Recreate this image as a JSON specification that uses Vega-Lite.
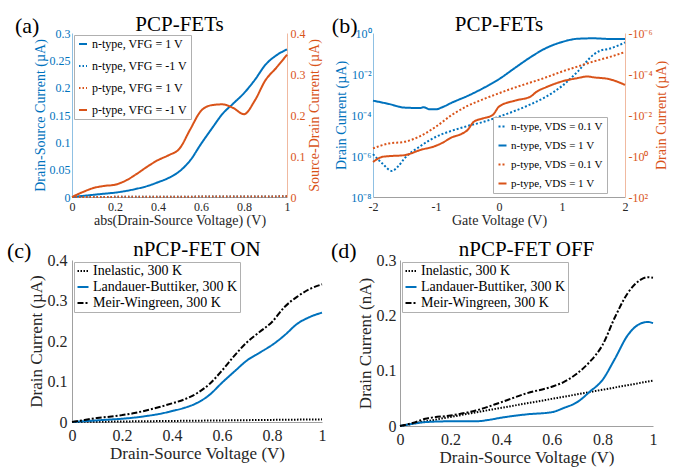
{
  "$schema": "https://vega.github.io/schema/vega-lite/v6.json",
  "background": "white",
  "padding": {"left": 7, "top": 14, "right": 1, "bottom": 2},
  "config": {
    "font": "Liberation Serif",
    "view": {"stroke": null},
    "axis": {"grid": false, "ticks": false, "labelFontSize": 12, "titleFontSize": 14, "titleFontWeight": "normal", "labelColor": "#262626", "titleColor": "#262626", "domainColor": "#a0a0a0", "labelPadding": 2, "titlePadding": 2, "labelFlush": false, "labelOverlap": false},
    "title": {"fontSize": 21, "fontWeight": "normal", "color": "#000000"},
    "legend": {"labelFontSize": 12, "symbolType": "stroke", "symbolStrokeWidth": 2, "strokeColor": "#b0b0b0", "fillColor": "#ffffff", "labelOffset": 3, "labelLimit": 300, "labelColor": "#000000"}
  },
  "datasets": {
    "a": [
      {"s":"n-type, VFG = 1 V","v":0,"i":0},{"s":"n-type, VFG = 1 V","v":0.05,"i":0.002},{"s":"n-type, VFG = 1 V","v":0.1,"i":0.004},{"s":"n-type, VFG = 1 V","v":0.15,"i":0.006},{"s":"n-type, VFG = 1 V","v":0.2,"i":0.008},{"s":"n-type, VFG = 1 V","v":0.25,"i":0.011},{"s":"n-type, VFG = 1 V","v":0.3,"i":0.015},{"s":"n-type, VFG = 1 V","v":0.35,"i":0.02},{"s":"n-type, VFG = 1 V","v":0.4,"i":0.027},{"s":"n-type, VFG = 1 V","v":0.45,"i":0.035},{"s":"n-type, VFG = 1 V","v":0.5,"i":0.047},{"s":"n-type, VFG = 1 V","v":0.55,"i":0.067},{"s":"n-type, VFG = 1 V","v":0.6,"i":0.097},{"s":"n-type, VFG = 1 V","v":0.65,"i":0.125},{"s":"n-type, VFG = 1 V","v":0.7,"i":0.152},{"s":"n-type, VFG = 1 V","v":0.75,"i":0.171},{"s":"n-type, VFG = 1 V","v":0.8,"i":0.19},{"s":"n-type, VFG = 1 V","v":0.85,"i":0.214},{"s":"n-type, VFG = 1 V","v":0.9,"i":0.242},{"s":"n-type, VFG = 1 V","v":0.95,"i":0.259},{"s":"n-type, VFG = 1 V","v":1,"i":0.27},
      {"s":"n-type, VFG = -1 V","v":0,"i":0},{"s":"n-type, VFG = -1 V","v":0.25,"i":0.0003},{"s":"n-type, VFG = -1 V","v":0.5,"i":0.0006},{"s":"n-type, VFG = -1 V","v":0.75,"i":0.0009},{"s":"n-type, VFG = -1 V","v":1,"i":0.0012},
      {"s":"p-type, VFG = 1 V","v":0,"i":0},{"s":"p-type, VFG = 1 V","v":0.25,"i":0.0004},{"s":"p-type, VFG = 1 V","v":0.5,"i":0.0008},{"s":"p-type, VFG = 1 V","v":0.75,"i":0.0012},{"s":"p-type, VFG = 1 V","v":1,"i":0.0016},
      {"s":"p-type, VFG = -1 V","v":0,"i":0},{"s":"p-type, VFG = -1 V","v":0.05,"i":0.012},{"s":"p-type, VFG = -1 V","v":0.1,"i":0.022},{"s":"p-type, VFG = -1 V","v":0.15,"i":0.027},{"s":"p-type, VFG = -1 V","v":0.2,"i":0.03},{"s":"p-type, VFG = -1 V","v":0.25,"i":0.04},{"s":"p-type, VFG = -1 V","v":0.3,"i":0.056},{"s":"p-type, VFG = -1 V","v":0.35,"i":0.074},{"s":"p-type, VFG = -1 V","v":0.4,"i":0.09},{"s":"p-type, VFG = -1 V","v":0.45,"i":0.102},{"s":"p-type, VFG = -1 V","v":0.5,"i":0.118},{"s":"p-type, VFG = -1 V","v":0.55,"i":0.165},{"s":"p-type, VFG = -1 V","v":0.6,"i":0.21},{"s":"p-type, VFG = -1 V","v":0.65,"i":0.224},{"s":"p-type, VFG = -1 V","v":0.7,"i":0.226},{"s":"p-type, VFG = -1 V","v":0.75,"i":0.217},{"s":"p-type, VFG = -1 V","v":0.8,"i":0.202},{"s":"p-type, VFG = -1 V","v":0.85,"i":0.235},{"s":"p-type, VFG = -1 V","v":0.9,"i":0.285},{"s":"p-type, VFG = -1 V","v":0.95,"i":0.315},{"s":"p-type, VFG = -1 V","v":1,"i":0.347}
    ],
    "b": [
      {"s":"n-type, VDS = 0.1 V","v":-2,"i":1.23e-6},{"s":"n-type, VDS = 0.1 V","v":-1.85,"i":4.27e-7},{"s":"n-type, VDS = 0.1 V","v":-1.7,"i":1.86e-7},{"s":"n-type, VDS = 0.1 V","v":-1.6,"i":3.16e-7},{"s":"n-type, VDS = 0.1 V","v":-1.5,"i":7.6e-7},{"s":"n-type, VDS = 0.1 V","v":-1.25,"i":3.0e-6},{"s":"n-type, VDS = 0.1 V","v":-1,"i":8.7e-6},{"s":"n-type, VDS = 0.1 V","v":-0.75,"i":1.7e-5},{"s":"n-type, VDS = 0.1 V","v":-0.5,"i":2.9e-5},{"s":"n-type, VDS = 0.1 V","v":-0.25,"i":4.6e-5},{"s":"n-type, VDS = 0.1 V","v":0,"i":8.3e-5},{"s":"n-type, VDS = 0.1 V","v":0.25,"i":1.58e-4},{"s":"n-type, VDS = 0.1 V","v":0.5,"i":3.3e-4},{"s":"n-type, VDS = 0.1 V","v":0.75,"i":7.9e-4},{"s":"n-type, VDS = 0.1 V","v":1,"i":2.6e-3},{"s":"n-type, VDS = 0.1 V","v":1.25,"i":0.0132},{"s":"n-type, VDS = 0.1 V","v":1.5,"i":0.087},{"s":"n-type, VDS = 0.1 V","v":1.6,"i":0.135},{"s":"n-type, VDS = 0.1 V","v":1.75,"i":0.17},{"s":"n-type, VDS = 0.1 V","v":2,"i":0.347},
      {"s":"n-type, VDS = 1 V","v":-2,"i":5.0e-4},{"s":"n-type, VDS = 1 V","v":-1.75,"i":3.47e-4},{"s":"n-type, VDS = 1 V","v":-1.5,"i":2.29e-4},{"s":"n-type, VDS = 1 V","v":-1.25,"i":2.19e-4},{"s":"n-type, VDS = 1 V","v":-1.2,"i":2.4e-4},{"s":"n-type, VDS = 1 V","v":-1.1,"i":1.9e-4},{"s":"n-type, VDS = 1 V","v":-1,"i":1.9e-4},{"s":"n-type, VDS = 1 V","v":-0.9,"i":2.4e-4},{"s":"n-type, VDS = 1 V","v":-0.75,"i":3.98e-4},{"s":"n-type, VDS = 1 V","v":-0.5,"i":8.5e-4},{"s":"n-type, VDS = 1 V","v":-0.25,"i":2.04e-3},{"s":"n-type, VDS = 1 V","v":0,"i":5.6e-3},{"s":"n-type, VDS = 1 V","v":0.25,"i":0.0195},{"s":"n-type, VDS = 1 V","v":0.5,"i":0.066},{"s":"n-type, VDS = 1 V","v":0.75,"i":0.186},{"s":"n-type, VDS = 1 V","v":1,"i":0.363},{"s":"n-type, VDS = 1 V","v":1.25,"i":0.525},{"s":"n-type, VDS = 1 V","v":1.5,"i":0.55},{"s":"n-type, VDS = 1 V","v":1.75,"i":0.513},{"s":"n-type, VDS = 1 V","v":2,"i":0.513},
      {"s":"p-type, VDS = 0.1 V","v":-2,"i":0.427},{"s":"p-type, VDS = 0.1 V","v":-1.75,"i":0.245},{"s":"p-type, VDS = 0.1 V","v":-1.5,"i":0.204},{"s":"p-type, VDS = 0.1 V","v":-1.25,"i":0.107},{"s":"p-type, VDS = 0.1 V","v":-1,"i":0.037},{"s":"p-type, VDS = 0.1 V","v":-0.75,"i":0.01},{"s":"p-type, VDS = 0.1 V","v":-0.5,"i":3.6e-3},{"s":"p-type, VDS = 0.1 V","v":-0.25,"i":1.7e-3},{"s":"p-type, VDS = 0.1 V","v":0,"i":8.7e-4},{"s":"p-type, VDS = 0.1 V","v":0.25,"i":4.6e-4},{"s":"p-type, VDS = 0.1 V","v":0.5,"i":2.6e-4},{"s":"p-type, VDS = 0.1 V","v":0.75,"i":1.45e-4},{"s":"p-type, VDS = 0.1 V","v":1,"i":7.6e-5},{"s":"p-type, VDS = 0.1 V","v":1.25,"i":4.3e-5},{"s":"p-type, VDS = 0.1 V","v":1.5,"i":2.45e-5},{"s":"p-type, VDS = 0.1 V","v":1.75,"i":1.5e-5},{"s":"p-type, VDS = 0.1 V","v":2,"i":8.5e-6},
      {"s":"p-type, VDS = 1 V","v":-2,"i":1.95},{"s":"p-type, VDS = 1 V","v":-1.85,"i":1.1},{"s":"p-type, VDS = 1 V","v":-1.75,"i":1.02},{"s":"p-type, VDS = 1 V","v":-1.5,"i":0.91},{"s":"p-type, VDS = 1 V","v":-1.25,"i":0.51},{"s":"p-type, VDS = 1 V","v":-1,"i":0.316},{"s":"p-type, VDS = 1 V","v":-0.9,"i":0.229},{"s":"p-type, VDS = 1 V","v":-0.75,"i":0.123},{"s":"p-type, VDS = 1 V","v":-0.6,"i":0.085},{"s":"p-type, VDS = 1 V","v":-0.5,"i":0.054},{"s":"p-type, VDS = 1 V","v":-0.4,"i":0.0214},{"s":"p-type, VDS = 1 V","v":-0.25,"i":0.0145},{"s":"p-type, VDS = 1 V","v":-0.1,"i":0.01},{"s":"p-type, VDS = 1 V","v":0,"i":3.9e-3},{"s":"p-type, VDS = 1 V","v":0.25,"i":2.0e-3},{"s":"p-type, VDS = 1 V","v":0.5,"i":1.26e-3},{"s":"p-type, VDS = 1 V","v":0.6,"i":7.2e-4},{"s":"p-type, VDS = 1 V","v":0.75,"i":4.4e-4},{"s":"p-type, VDS = 1 V","v":1,"i":2.3e-4},{"s":"p-type, VDS = 1 V","v":1.25,"i":1.58e-4},{"s":"p-type, VDS = 1 V","v":1.4,"i":1.32e-4},{"s":"p-type, VDS = 1 V","v":1.5,"i":1.45e-4},{"s":"p-type, VDS = 1 V","v":1.75,"i":1.78e-4},{"s":"p-type, VDS = 1 V","v":2,"i":3.4e-4}
    ],
    "c": [
      {"s":"Inelastic, 300 K","v":0,"i":0},{"s":"Inelastic, 300 K","v":0.2,"i":0.0013},{"s":"Inelastic, 300 K","v":0.4,"i":0.0026},{"s":"Inelastic, 300 K","v":0.6,"i":0.0039},{"s":"Inelastic, 300 K","v":0.8,"i":0.0052},{"s":"Inelastic, 300 K","v":1,"i":0.0065},
      {"s":"Landauer-Buttiker, 300 K","v":0,"i":0},{"s":"Landauer-Buttiker, 300 K","v":0.05,"i":0.002},{"s":"Landauer-Buttiker, 300 K","v":0.1,"i":0.004},{"s":"Landauer-Buttiker, 300 K","v":0.15,"i":0.006},{"s":"Landauer-Buttiker, 300 K","v":0.2,"i":0.008},{"s":"Landauer-Buttiker, 300 K","v":0.25,"i":0.011},{"s":"Landauer-Buttiker, 300 K","v":0.3,"i":0.015},{"s":"Landauer-Buttiker, 300 K","v":0.35,"i":0.02},{"s":"Landauer-Buttiker, 300 K","v":0.4,"i":0.027},{"s":"Landauer-Buttiker, 300 K","v":0.45,"i":0.035},{"s":"Landauer-Buttiker, 300 K","v":0.5,"i":0.047},{"s":"Landauer-Buttiker, 300 K","v":0.55,"i":0.067},{"s":"Landauer-Buttiker, 300 K","v":0.6,"i":0.097},{"s":"Landauer-Buttiker, 300 K","v":0.65,"i":0.125},{"s":"Landauer-Buttiker, 300 K","v":0.7,"i":0.152},{"s":"Landauer-Buttiker, 300 K","v":0.75,"i":0.171},{"s":"Landauer-Buttiker, 300 K","v":0.8,"i":0.19},{"s":"Landauer-Buttiker, 300 K","v":0.85,"i":0.214},{"s":"Landauer-Buttiker, 300 K","v":0.9,"i":0.242},{"s":"Landauer-Buttiker, 300 K","v":0.95,"i":0.259},{"s":"Landauer-Buttiker, 300 K","v":1,"i":0.27},
      {"s":"Meir-Wingreen, 300 K","v":0,"i":0},{"s":"Meir-Wingreen, 300 K","v":0.05,"i":0.005},{"s":"Meir-Wingreen, 300 K","v":0.1,"i":0.01},{"s":"Meir-Wingreen, 300 K","v":0.15,"i":0.013},{"s":"Meir-Wingreen, 300 K","v":0.2,"i":0.017},{"s":"Meir-Wingreen, 300 K","v":0.25,"i":0.022},{"s":"Meir-Wingreen, 300 K","v":0.3,"i":0.029},{"s":"Meir-Wingreen, 300 K","v":0.35,"i":0.037},{"s":"Meir-Wingreen, 300 K","v":0.4,"i":0.046},{"s":"Meir-Wingreen, 300 K","v":0.45,"i":0.056},{"s":"Meir-Wingreen, 300 K","v":0.5,"i":0.071},{"s":"Meir-Wingreen, 300 K","v":0.55,"i":0.094},{"s":"Meir-Wingreen, 300 K","v":0.6,"i":0.127},{"s":"Meir-Wingreen, 300 K","v":0.65,"i":0.164},{"s":"Meir-Wingreen, 300 K","v":0.7,"i":0.197},{"s":"Meir-Wingreen, 300 K","v":0.75,"i":0.222},{"s":"Meir-Wingreen, 300 K","v":0.8,"i":0.247},{"s":"Meir-Wingreen, 300 K","v":0.85,"i":0.284},{"s":"Meir-Wingreen, 300 K","v":0.9,"i":0.309},{"s":"Meir-Wingreen, 300 K","v":0.95,"i":0.328},{"s":"Meir-Wingreen, 300 K","v":1,"i":0.34}
    ],
    "d": [
      {"s":"Inelastic, 300 K","v":0,"i":0},{"s":"Inelastic, 300 K","v":0.2,"i":0.0164},{"s":"Inelastic, 300 K","v":0.4,"i":0.0328},{"s":"Inelastic, 300 K","v":0.6,"i":0.049},{"s":"Inelastic, 300 K","v":0.8,"i":0.0655},{"s":"Inelastic, 300 K","v":1,"i":0.082},
      {"s":"Landauer-Buttiker, 300 K","v":0,"i":0},{"s":"Landauer-Buttiker, 300 K","v":0.05,"i":0.004},{"s":"Landauer-Buttiker, 300 K","v":0.1,"i":0.007},{"s":"Landauer-Buttiker, 300 K","v":0.2,"i":0.0085},{"s":"Landauer-Buttiker, 300 K","v":0.3,"i":0.0085},{"s":"Landauer-Buttiker, 300 K","v":0.35,"i":0.011},{"s":"Landauer-Buttiker, 300 K","v":0.4,"i":0.015},{"s":"Landauer-Buttiker, 300 K","v":0.5,"i":0.021},{"s":"Landauer-Buttiker, 300 K","v":0.6,"i":0.025},{"s":"Landauer-Buttiker, 300 K","v":0.65,"i":0.033},{"s":"Landauer-Buttiker, 300 K","v":0.7,"i":0.043},{"s":"Landauer-Buttiker, 300 K","v":0.75,"i":0.062},{"s":"Landauer-Buttiker, 300 K","v":0.8,"i":0.083},{"s":"Landauer-Buttiker, 300 K","v":0.85,"i":0.122},{"s":"Landauer-Buttiker, 300 K","v":0.9,"i":0.164},{"s":"Landauer-Buttiker, 300 K","v":0.95,"i":0.185},{"s":"Landauer-Buttiker, 300 K","v":0.98,"i":0.188},{"s":"Landauer-Buttiker, 300 K","v":1,"i":0.186},
      {"s":"Meir-Wingreen, 300 K","v":0,"i":0},{"s":"Meir-Wingreen, 300 K","v":0.05,"i":0.0054},{"s":"Meir-Wingreen, 300 K","v":0.1,"i":0.013},{"s":"Meir-Wingreen, 300 K","v":0.2,"i":0.019},{"s":"Meir-Wingreen, 300 K","v":0.3,"i":0.028},{"s":"Meir-Wingreen, 300 K","v":0.4,"i":0.043},{"s":"Meir-Wingreen, 300 K","v":0.5,"i":0.059},{"s":"Meir-Wingreen, 300 K","v":0.6,"i":0.071},{"s":"Meir-Wingreen, 300 K","v":0.65,"i":0.08},{"s":"Meir-Wingreen, 300 K","v":0.7,"i":0.095},{"s":"Meir-Wingreen, 300 K","v":0.75,"i":0.116},{"s":"Meir-Wingreen, 300 K","v":0.8,"i":0.146},{"s":"Meir-Wingreen, 300 K","v":0.85,"i":0.197},{"s":"Meir-Wingreen, 300 K","v":0.9,"i":0.24},{"s":"Meir-Wingreen, 300 K","v":0.95,"i":0.264},{"s":"Meir-Wingreen, 300 K","v":0.98,"i":0.269},{"s":"Meir-Wingreen, 300 K","v":1,"i":0.268}
    ]
  },
  "resolve": {"scale": {"x": "independent", "y": "independent", "color": "independent", "strokeDash": "independent"}, "legend": {"color": "independent", "strokeDash": "independent"}},
  "vconcat": [
    {
      "resolve": {"scale": {"x": "independent", "y": "independent", "color": "independent", "strokeDash": "independent"}, "legend": {"color": "independent", "strokeDash": "independent"}},
      "hconcat": [
        {
          "title": {"text": "(a)", "anchor": "start", "frame": "bounds", "fontSize": 22, "offset": -24, "dx": -18},
          "vconcat": [
            {
              "title": {"text": "PCP-FETs", "offset": -8},
              "width": 215, "height": 164,
              "data": {"name": "a"},
              "encoding": {
                "x": {"field": "v", "type": "quantitative", "scale": {"domain": [0, 1], "nice": false}, "axis": {"title": "abs(Drain-Source Voltage) (V)", "values": [0, 0.2, 0.4, 0.6, 0.8, 1], "format": "~g", "labelPadding": 4, "titlePadding": 1}},
                "color": {"field": "s", "type": "nominal", "scale": {"domain": ["n-type, VFG = 1 V", "n-type, VFG = -1 V", "p-type, VFG = 1 V", "p-type, VFG = -1 V"], "range": ["#0072BD", "#0072BD", "#D95319", "#D95319"]}, "legend": {"title": null, "orient": "top-left", "offset": 2, "padding": 3, "rowPadding": 10, "symbolSize": 64}},
                "strokeDash": {"field": "s", "type": "nominal", "scale": {"domain": ["n-type, VFG = 1 V", "n-type, VFG = -1 V", "p-type, VFG = 1 V", "p-type, VFG = -1 V"], "range": [[1, 0], [1.5, 2], [1.5, 2], [1, 0]]}, "legend": {"title": null, "orient": "top-left", "offset": 2, "padding": 3, "rowPadding": 10, "symbolSize": 64}}
              },
              "layer": [
                {
                  "transform": [{"filter": "indexof(datum.s, 'n-type') == 0"}],
                  "mark": {"type": "line", "strokeWidth": 2, "interpolate": "monotone"},
                  "encoding": {"y": {"field": "i", "type": "quantitative", "scale": {"domain": [0, 0.3], "nice": false}, "axis": {"orient": "left", "title": "Drain-Source Current (µA)", "values": [0, 0.05, 0.1, 0.15, 0.2, 0.25, 0.3], "format": "~g", "labelColor": "#0072BD", "titleColor": "#0072BD", "domainColor": "#8fc0e3"}}}
                },
                {
                  "transform": [{"filter": "indexof(datum.s, 'p-type') == 0"}],
                  "mark": {"type": "line", "strokeWidth": 2, "interpolate": "monotone"},
                  "encoding": {"y": {"field": "i", "type": "quantitative", "scale": {"domain": [0, 0.4], "nice": false}, "axis": {"orient": "right", "title": "Source-Drain Current (µA)", "titleAngle": 270, "titleBaseline": "top", "values": [0, 0.1, 0.2, 0.3, 0.4], "format": "~g", "labelColor": "#D95319", "titleColor": "#D95319", "domainColor": "#f0b9a0", "labelPadding": 3}}}
                }
              ],
              "resolve": {"scale": {"y": "independent"}}
            }
          ]
        },
        {
          "title": {"text": "(b)", "anchor": "start", "frame": "bounds", "fontSize": 22, "offset": -24, "dx": -3},
          "vconcat": [
            {
              "title": {"text": "PCP-FETs", "offset": -8},
              "width": 252, "height": 164,
              "data": {"name": "b"},
              "encoding": {
                "x": {"field": "v", "type": "quantitative", "scale": {"domain": [-2, 2], "nice": false}, "axis": {"title": "Gate Voltage (V)", "values": [-2, -1, 0, 1, 2], "labelExpr": "'' + datum.value", "labelPadding": 4, "titlePadding": 1}},
                "color": {"field": "s", "type": "nominal", "scale": {"domain": ["n-type, VDS = 0.1 V", "n-type, VDS = 1 V", "p-type, VDS = 0.1 V", "p-type, VDS = 1 V"], "range": ["#0072BD", "#0072BD", "#D95319", "#D95319"]}, "legend": {"title": null, "orient": "none", "legendX": 120, "legendY": 84, "padding": 4, "rowPadding": 7, "labelFontSize": 11, "symbolSize": 64}},
                "strokeDash": {"field": "s", "type": "nominal", "scale": {"domain": ["n-type, VDS = 0.1 V", "n-type, VDS = 1 V", "p-type, VDS = 0.1 V", "p-type, VDS = 1 V"], "range": [[2, 2], [1, 0], [2, 2], [1, 0]]}, "legend": {"title": null, "orient": "none", "legendX": 120, "legendY": 84, "padding": 4, "rowPadding": 7, "labelFontSize": 11, "symbolSize": 64}}
              },
              "layer": [
                {
                  "transform": [{"filter": "indexof(datum.s, 'n-type') == 0"}],
                  "mark": {"type": "line", "strokeWidth": 2, "interpolate": "monotone"},
                  "encoding": {"y": {"field": "i", "type": "quantitative", "scale": {"type": "log", "domain": [1e-8, 1], "nice": false}, "axis": {"orient": "left", "title": "Drain Current (µA)", "values": [1e-8, 1e-6, 1e-4, 1e-2, 1], "labelExpr": "datum.value >= 0.5 ? '10⁰' : datum.value >= 0.005 ? '10⁻²' : datum.value >= 5e-5 ? '10⁻⁴' : datum.value >= 5e-7 ? '10⁻⁶' : '10⁻⁸'", "labelColor": "#0072BD", "titleColor": "#0072BD", "domainColor": "#8fc0e3"}}}
                },
                {
                  "transform": [{"filter": "indexof(datum.s, 'p-type') == 0"}],
                  "mark": {"type": "line", "strokeWidth": 2, "interpolate": "monotone"},
                  "encoding": {"y": {"field": "i", "type": "quantitative", "scale": {"type": "log", "domain": [1e-6, 100], "nice": false, "reverse": true}, "axis": {"orient": "right", "title": "Drain Current (µA)", "titleAngle": 270, "titleBaseline": "top", "values": [1e-6, 1e-4, 1e-2, 1, 100], "labelExpr": "datum.value < 1e-5 ? '-10⁻⁶' : datum.value < 1e-3 ? '-10⁻⁴' : datum.value < 0.1 ? '-10⁻²' : datum.value < 10 ? '-10⁰' : '-10²'", "labelColor": "#D95319", "titleColor": "#D95319", "domainColor": "#f0b9a0", "labelPadding": 3}}}
                }
              ],
              "resolve": {"scale": {"y": "independent"}}
            }
          ]
        }
      ],
      "spacing": 10,
      "align": "none"
    },
    {
      "resolve": {"scale": {"x": "independent", "y": "independent", "color": "independent", "strokeDash": "independent"}, "legend": {"color": "independent", "strokeDash": "independent"}},
      "hconcat": [
        {
          "title": {"text": "(c)", "anchor": "start", "frame": "bounds", "fontSize": 22, "offset": -24, "dx": -20},
          "vconcat": [
            {
              "title": {"text": "nPCP-FET ON", "offset": -8},
              "width": 250, "height": 162,
              "data": {"name": "c"},
              "mark": {"type": "line", "strokeWidth": 2, "interpolate": "monotone"},
              "encoding": {
                "x": {"field": "v", "type": "quantitative", "scale": {"domain": [0, 1], "nice": false}, "axis": {"title": "Drain-Source Voltage (V)", "values": [0, 0.2, 0.4, 0.6, 0.8, 1], "format": "~g", "labelFontSize": 16, "titleFontSize": 17, "labelPadding": 5, "titlePadding": 2}},
                "y": {"field": "i", "type": "quantitative", "scale": {"domain": [0, 0.4], "nice": false}, "axis": {"title": "Drain Current (µA)", "values": [0, 0.1, 0.2, 0.3, 0.4], "format": "~g", "labelFontSize": 16, "titleFontSize": 17, "labelPadding": 5, "titlePadding": 2}},
                "color": {"field": "s", "type": "nominal", "scale": {"domain": ["Inelastic, 300 K", "Landauer-Buttiker, 300 K", "Meir-Wingreen, 300 K"], "range": ["#000000", "#0072BD", "#000000"]}, "legend": {"title": null, "orient": "top-left", "offset": 2, "padding": 2, "rowPadding": 2, "labelFontSize": 14, "symbolSize": 121}},
                "strokeDash": {"field": "s", "type": "nominal", "scale": {"domain": ["Inelastic, 300 K", "Landauer-Buttiker, 300 K", "Meir-Wingreen, 300 K"], "range": [[1.5, 1.5], [1, 0], [6, 2, 2, 2]]}, "legend": {"title": null, "orient": "top-left", "offset": 2, "padding": 2, "rowPadding": 2, "labelFontSize": 14, "symbolSize": 121}}
              }
            }
          ]
        },
        {
          "title": {"text": "(d)", "anchor": "start", "frame": "bounds", "fontSize": 22, "offset": -24, "dx": -25},
          "vconcat": [
            {
              "title": {"text": "nPCP-FET OFF", "offset": -8},
              "width": 253, "height": 166,
              "data": {"name": "d"},
              "mark": {"type": "line", "strokeWidth": 2, "interpolate": "monotone"},
              "encoding": {
                "x": {"field": "v", "type": "quantitative", "scale": {"domain": [0, 1], "nice": false}, "axis": {"title": "Drain-Source Voltage (V)", "values": [0, 0.2, 0.4, 0.6, 0.8, 1], "format": "~g", "labelFontSize": 16, "titleFontSize": 17, "labelPadding": 5, "titlePadding": 2}},
                "y": {"field": "i", "type": "quantitative", "scale": {"domain": [0, 0.3], "nice": false}, "axis": {"title": "Drain Current (nA)", "values": [0, 0.1, 0.2, 0.3], "format": "~g", "labelFontSize": 16, "titleFontSize": 17, "labelPadding": 4, "titlePadding": 2}},
                "color": {"field": "s", "type": "nominal", "scale": {"domain": ["Inelastic, 300 K", "Landauer-Buttiker, 300 K", "Meir-Wingreen, 300 K"], "range": ["#000000", "#0072BD", "#000000"]}, "legend": {"title": null, "orient": "top-left", "offset": 2, "padding": 2, "rowPadding": 2, "labelFontSize": 14, "symbolSize": 121}},
                "strokeDash": {"field": "s", "type": "nominal", "scale": {"domain": ["Inelastic, 300 K", "Landauer-Buttiker, 300 K", "Meir-Wingreen, 300 K"], "range": [[1.5, 1.5], [1, 0], [6, 2, 2, 2]]}, "legend": {"title": null, "orient": "top-left", "offset": 2, "padding": 2, "rowPadding": 2, "labelFontSize": 14, "symbolSize": 121}}
              }
            }
          ]
        }
      ],
      "spacing": 5,
      "align": "none"
    }
  ],
  "spacing": 12,
  "align": "none"
}
